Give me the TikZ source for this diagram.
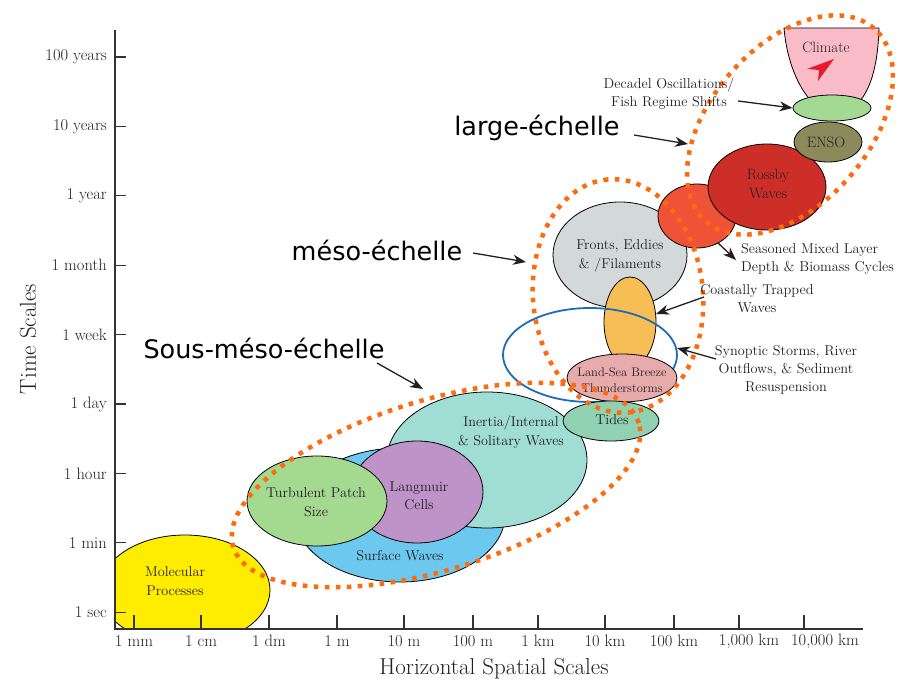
\documentclass[tikz,border=0pt]{standalone}
\usepackage{fontspec}
\newfontfamily\dejavu{DejaVu Sans}
\usetikzlibrary{shapes.geometric,arrows.meta}
\definecolor{ink}{HTML}{231F20}
\definecolor{axc}{HTML}{333333}
\definecolor{cyel}{HTML}{FFED00}
\definecolor{csurf}{HTML}{6CC8EE}
\definecolor{cturb}{HTML}{A4D990}
\definecolor{clang}{HTML}{BE93C7}
\definecolor{cinert}{HTML}{A0DDD5}
\definecolor{ctide}{HTML}{8FD1B0}
\definecolor{cland}{HTML}{E8ABAB}
\definecolor{ccoast}{HTML}{F8BE56}
\definecolor{cfront}{HTML}{D3D9D8}
\definecolor{cblue}{HTML}{1E6BB8}
\definecolor{cseas}{HTML}{EE5337}
\definecolor{cross}{HTML}{CD2E28}
\definecolor{censo}{HTML}{8C8A5B}
\definecolor{cdec}{HTML}{A4D994}
\definecolor{cclim}{HTML}{F9BBC8}
\definecolor{cred}{HTML}{E7192D}
\definecolor{dotor}{HTML}{FF6A0D}
\begin{document}
\begin{tikzpicture}[x=1pt,y=-1pt,
  bub/.style={ellipse, draw=black, line width=0.8pt, inner sep=0pt},
  lbl/.style={text=ink, align=center, inner sep=0pt, font=\fontsize{14.2}{18.5}\selectfont},
  ann/.style={text=ink, inner sep=0pt, font=\fontsize{14.3}{18}\selectfont},
  tl/.style={text=ink, inner sep=0pt, font=\fontsize{16.5}{18}\selectfont},
  big/.style={text=ink, inner sep=0pt, font=\fontsize{23}{26}\selectfont},
  fr/.style={text=black, inner sep=0pt, font=\dejavu\fontsize{25.5}{30}\selectfont},
  arr/.style={draw=ink, line width=1.3pt, -{Stealth[length=13pt,width=10pt,inset=4pt]}},
  dots/.style={draw=dotor, line width=4.5pt, dash pattern=on 4.5pt off 6.5pt},
  tick/.style={draw=axc, line width=1.1pt},
  axisline/.style={draw=axc, line width=2.6pt},
]
\useasboundingbox (0,0) rectangle (898,684);
\fill[white] (0,0) rectangle (898,684);

% molecular (clipped by axes)
\begin{scope}
\clip (115,0) rectangle (898,629);
\node[bub, fill=cyel, minimum width=170pt, minimum height=110pt] (molecular) at (185,590) {};
\end{scope}

% small-scale bubbles
\node[bub, fill=csurf, minimum width=210pt, minimum height=134pt] (surface) at (400,515) {};
\node[bub, fill=cinert, minimum width=200pt, minimum height=136pt] (inertia) at (487,460) {};
\node[bub, fill=clang, minimum width=132pt, minimum height=102pt] (langmuir) at (417,492) {};
\node[bub, fill=cturb, minimum width=140pt, minimum height=90pt] (turb) at (317,501) {};

% meso bubbles
\node[bub, fill=cfront, minimum width=134pt, minimum height=106pt] (fronts) at (620,255) {};
\node[bub, fill=ccoast, minimum width=52pt, minimum height=90pt] (coastal) at (630,322) {};
\node[ellipse, draw=cblue, line width=1.8pt, inner sep=0pt, minimum width=174pt, minimum height=94pt] (synoptic) at (590,355) {};
\node[bub, fill=cland, minimum width=110pt, minimum height=48pt] (landsea) at (622,378) {};
\node[bub, fill=ctide, minimum width=96pt, minimum height=40pt] (tides) at (611,421) {};

% large-scale bubbles
\node[bub, fill=cseas, minimum width=78pt, minimum height=64pt] (seasonal) at (697,216) {};
\node[bub, fill=cross, minimum width=118pt, minimum height=86pt] (rossby) at (767,187) {};
\node[bub, fill=censo, minimum width=68pt, minimum height=40pt] (enso) at (828,142) {};
\draw[fill=cclim, line width=0.8pt] (784,28) -- (879,28) .. controls (878,62) and (872,86) .. (860,101) -- (811,101) .. controls (798,86) and (787,62) .. (784,28) -- cycle;
\fill[cred] (834,59) -- (807,69) -- (819,70) -- (818,81) -- cycle;
\node[bub, fill=cdec, minimum width=78pt, minimum height=26pt] (decadal) at (832,108) {};

% axes
\draw[axisline] (115,30) -- (115,629) -- (863,629);
\foreach \lab [count=\i from 0] in {100 years,10 years,1 year,1 month,1 week,1 day,1 hour,1 min,1 sec}{
  \pgfmathsetmacro\yy{57+69.4*\i}
  \draw[tick] (115,\yy) -- (126,\yy);
  \node[tl, anchor=east] (ytick\i) at (107,\yy) {\lab};
}
\foreach \lab/\tx [count=\i from 0] in {1 mm/134,1 cm/201,1 dm/269,1 m/337,10 m/404,100 m/473,1 km/538,10 km/605,100 km/674}{
  \draw[tick] (\tx,629) -- (\tx,615);
  \node[tl] (xtick\i) at (\tx,641) {\lab};
}
\draw[tick] (739,629) -- (739,615);
\node[tl] (xtick9) at (749,641) {1,000 km};
\draw[tick] (804,629) -- (804,615);
\node[tl] (xtick10) at (825,641) {10,000 km};

\node[big, rotate=90] (ytitle) at (28,339) {Time Scales};
\node[big] (xtitle) at (494,669) {Horizontal Spatial Scales};

% bubble texts
\node[lbl] (molT) at (175,581) {Molecular\\Processes};
\node[lbl] (turbT) at (316,502) {Turbulent Patch\\Size};
\node[lbl] (langT) at (419,496) {Langmuir\\Cells};
\node[lbl] (surfT) at (400,556) {Surface Waves};
\node[lbl] (inertT) at (511,432) {Inertia/Internal\\\& Solitary Waves};
\node[lbl] (tideT) at (612,420) {Tides};
\node[lbl, font=\fontsize{12.5}{16.5}\selectfont] (landT) at (622,380) {Land-Sea Breeze\\Thunderstorms};
\node[lbl] (frontT) at (620,256) {Fronts, Eddies\\\& /Filaments};
\node[lbl, font=\fontsize{15}{18.5}\selectfont] (rossT) at (768,184) {Rossby\\Waves};
\node[lbl, font=\fontsize{15}{18}\selectfont] (ensoT) at (826,142) {ENSO};
\node[lbl, font=\fontsize{15}{18}\selectfont] (climT) at (826,47) {Climate};

% dotted scale regions
\draw[dots, rotate around={17:(436,485)}] (436,485) ellipse [x radius=212pt, y radius=85pt];
\draw[dots, rotate around={95:(618,296)}] (618,296) ellipse [x radius=117pt, y radius=85pt];
\draw[dots, rotate around={49:(790,125)}] (790,125) ellipse [x radius=128pt, y radius=79pt];

% annotation labels
\node[fr] (largeL) at (537,128) {large-échelle};
\node[fr] (mesoL) at (377,250) {méso-échelle};
\node[fr] (sousL) at (264,348) {Sous-méso-échelle};
\node[ann, align=center] (decL) at (669,94) {Decadel Oscillations/\\Fish Regime Shifts};
\node[ann, align=left, anchor=west] (seasL) at (741,259) {Seasoned Mixed Layer\\Depth \& Biomass Cycles};
\node[ann, align=center] (coastL) at (757,299) {Coastally Trapped\\Waves};
\node[ann, align=center] (synL) at (786,370) {Synoptic Storms, River\\Outflows, \& Sediment\\Resuspension};

% arrows
\coordinate (largeS) at (634,135);
\coordinate (largeE) at (688,144);
\coordinate (mesoS) at (473,253);
\coordinate (mesoE) at (526,262);
\coordinate (sousS) at (377,363);
\coordinate (sousE) at (423,389);
\coordinate (decS) at (738,101);
\coordinate (seasE) at (736,260);
\coordinate (coastS) at (704,297);
\coordinate (coastE) at (656,314);
\coordinate (synS) at (716,359);
\coordinate (synE) at (677,348);
\draw[arr] (largeS) -- (largeE);
\draw[arr] (mesoS) -- (mesoE);
\draw[arr] (sousS) -- (sousE);
\draw[arr] (decS) -- (decadal.west);
\draw[arr] (seasonal.-52) -- (seasE);
\draw[arr] (coastS) -- (coastE);
\draw[arr] (synS) -- (synE);
\end{tikzpicture}
\end{document}
